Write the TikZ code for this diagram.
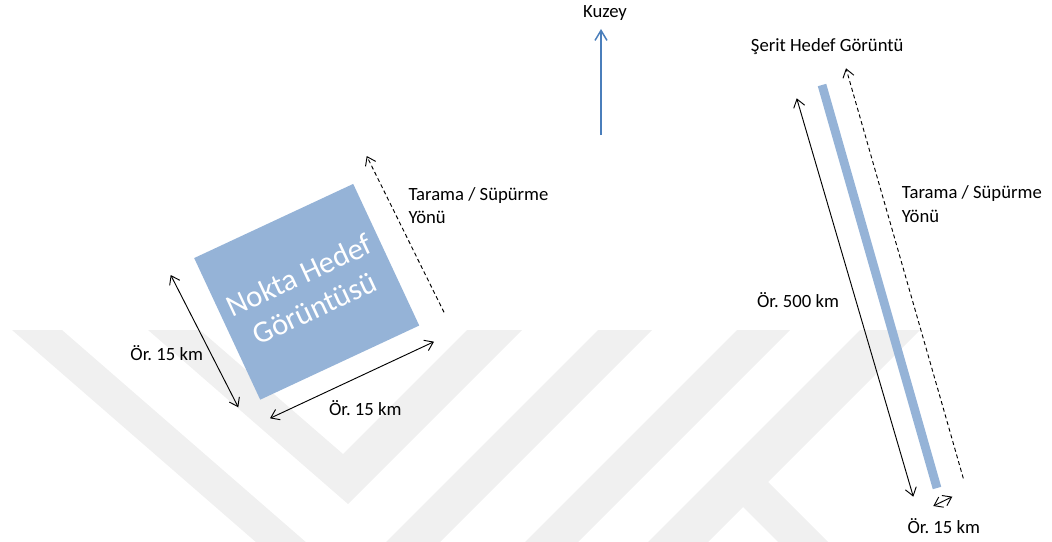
\documentclass[tikz,border=0pt]{standalone}
\usepackage{fontspec}
\setmainfont{Carlito}
\usetikzlibrary{arrows.meta}
\frenchspacing

\definecolor{tileblue}{RGB}{149,179,215}
\definecolor{northblue}{RGB}{74,126,187}
\definecolor{markgray}{RGB}{240,240,240}

\begin{document}
\begin{tikzpicture}[x=0.75pt,y=-0.75pt,
  lbl/.style={font=\fontsize{14}{18}\selectfont, inner sep=0pt, text=black},
  barb/.tip={Straight Barb[length=6pt,width=8.5pt]},
  dimline/.style={line width=0.7pt, barb-barb},
  scanline/.style={line width=0.7pt, dash pattern=on 3pt off 2.2pt, -barb},
  northline/.style={northblue, line width=1.1pt, -{Straight Barb[length=7.5pt,width=9pt]}},
  tile/.style={fill=tileblue, rotate=25, minimum width=131.6pt, minimum height=117.2pt,
    inner sep=0pt, text=white, align=center, font=\fontsize{23}{27.4}\selectfont},
  strip/.style={tileblue, line width=6.6pt}
]
\useasboundingbox (0,0) rectangle (1052,542);

% faint background emblem
\begin{scope}
  \clip (0,0) rectangle (1052,542);
  \fill[markgray] (12,330) -- (62,330) -- (372.5,600) -- (322.5,600) -- cycle;
  \fill[markgray] (148,330) -- (200,330) -- (343,454) -- (467,330) -- (522,330) -- (348,504) -- cycle;
  \fill[markgray] (598,330) -- (652,330) -- (382,600) -- (328,600) -- cycle;
  \fill[markgray] (737,330) -- (790,330) -- (520,600) -- (467,600) -- cycle;
  \fill[markgray] (860,330) -- (920,330) -- (768,482) -- (886,600) -- (836,600)
                  -- (743,507) -- (650,600) -- (590,600) -- cycle;
\end{scope}

% north arrow
\node[lbl, anchor=base] (kuzey) at (605,17.3) {Kuzey};
\coordinate (northS) at (601,135);
\coordinate (northN) at (601,29);
\draw[northline] (northS) -- (northN);

% point target image
\node[tile] (point) at (306.7,291.8) {Nokta Hedef\\Görüntüsü};

\coordinate (pw1) at (170.7,275);
\coordinate (pw2) at (238.3,407.3);
\draw[dimline] (pw1) -- (pw2);
\node[lbl, anchor=base] (pwlbl) at (166.7,360) {Ör. 15 km};

\coordinate (pl1) at (270,418.3);
\coordinate (pl2) at (434,341.7);
\draw[dimline] (pl1) -- (pl2);
\node[lbl, anchor=base] (pllbl) at (365.3,415) {Ör. 15 km};

\coordinate (ps1) at (444,312.3);
\coordinate (ps2) at (366.7,156);
\draw[scanline] (ps1) -- (ps2);
\node[lbl, anchor=base west] (pscan1) at (408.3,200) {Tarama / Süpürme};
\node[lbl, anchor=base west] (pscan2) at (408.3,223.3) {Yönü};

% strip target image
\node[lbl, anchor=base] (stripttl) at (827.2,51.3) {Şerit Hedef Görüntü};

\coordinate (stT) at (822,85);
\coordinate (stB) at (937,488);
\draw[strip] (stT) -- (stB);

\coordinate (sl1) at (796.7,98.3);
\coordinate (sl2) at (913.3,496.7);
\draw[dimline] (sl1) -- (sl2);
\node[lbl, anchor=base] (sllbl) at (798,307) {Ör. 500 km};

\coordinate (sw1) at (933.3,506);
\coordinate (sw2) at (952.3,496.7);
\draw[dimline] (sw1) -- (sw2);
\node[lbl, anchor=base] (swlbl) at (943.8,533) {Ör. 15 km};

\coordinate (ss1) at (963.3,478.3);
\coordinate (ss2) at (846,68.3);
\draw[scanline] (ss1) -- (ss2);
\node[lbl, anchor=base west] (sscan1) at (901.7,198.3) {Tarama / Süpürme};
\node[lbl, anchor=base west] (sscan2) at (901.7,222.7) {Yönü};
\end{tikzpicture}
\end{document}
